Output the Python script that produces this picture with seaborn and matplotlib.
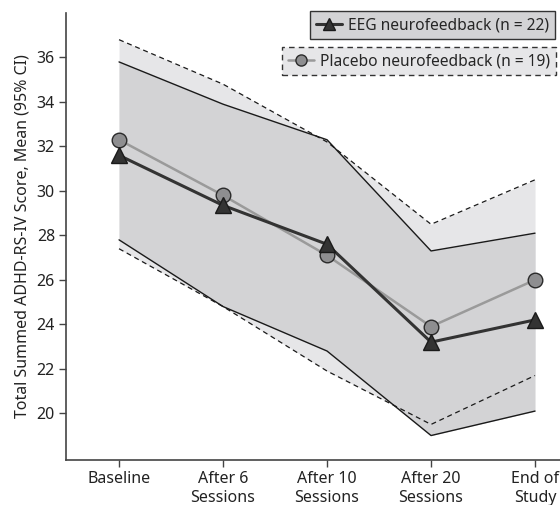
import matplotlib
matplotlib.use("Agg")
import matplotlib.pyplot as plt
import seaborn as sns
import pandas as pd
from matplotlib.lines import Line2D

sns.set_theme(style="ticks")
plt.rcParams['font.family'] = ['Noto Sans', 'DejaVu Sans']

categories = ["Baseline", "After 6\nSessions", "After 10\nSessions", "After 20\nSessions", "End of\nStudy"]
eeg_mean = [31.6, 29.35, 27.6, 23.2, 24.2]
eeg_upper = [35.8, 33.9, 32.3, 27.3, 28.1]
eeg_lower = [27.8, 24.8, 22.8, 19.0, 20.1]
pla_mean = [32.3, 29.8, 27.1, 23.9, 26.0]
pla_upper = [36.8, 34.8, 32.2, 28.5, 30.5]
pla_lower = [27.4, 24.8, 21.9, 19.5, 21.7]
yticks = [20, 22, 24, 26, 28, 30, 32, 34, 36]

pos = list(range(len(categories)))
df = pd.DataFrame({"pos": pos, "eeg": eeg_mean, "pla": pla_mean})

fig = plt.figure(figsize=(5.6, 5.05), dpi=100)
ax = fig.add_axes([66/560, 1-460/505, 1-66/560, (460-13)/505])

ax.fill_between(pos, pla_lower, pla_upper, color="#e6e6e8", lw=0, zorder=1)
ax.fill_between(pos, eeg_lower, eeg_upper, color="#d3d3d5", lw=0, zorder=2)
ax.plot(pos, pla_upper, color="#1a1a1a", lw=0.9, ls=(0, (4, 3)), zorder=3)
ax.plot(pos, pla_lower, color="#1a1a1a", lw=0.9, ls=(0, (4, 3)), zorder=3)
ax.plot(pos, eeg_upper, color="#1a1a1a", lw=1.0, zorder=3)
ax.plot(pos, eeg_lower, color="#1a1a1a", lw=1.0, zorder=3)

sns.lineplot(data=df, x="pos", y="pla", ax=ax, color="#9a9a9a", lw=1.8,
             marker="o", markersize=10.5, markerfacecolor="#8e8e90",
             markeredgecolor="#2a2a2a", markeredgewidth=1.0, zorder=4)
sns.lineplot(data=df, x="pos", y="eeg", ax=ax, color="#333333", lw=2.2,
             marker="^", markersize=11, markerfacecolor="#333333",
             markeredgecolor="#1a1a1a", markeredgewidth=1.0, zorder=5)

ax.set_xlim(-0.51, 4.24)
ax.set_ylim(17.9, 38)
ax.set_xticks(pos)
ax.set_xticklabels(categories, fontsize=11.5)
ax.set_yticks(yticks)
ax.set_yticklabels([str(t) for t in yticks], fontsize=11.5)
ax.set_xlabel("")
ax.set_ylabel("Total Summed ADHD-RS-IV Score, Mean (95% CI)", fontsize=11.5, color="#222222")
ax.tick_params(axis="both", direction="out", length=5, width=1, color="#444444", labelcolor="#222222", pad=3)
for s in ["left", "bottom"]:
    ax.spines[s].set_linewidth(1.2)
    ax.spines[s].set_color("#444444")
sns.despine(ax=ax)

h1 = Line2D([], [], color="#333333", lw=2.2, marker="^", markersize=8.5,
            markerfacecolor="#333333", markeredgecolor="#1a1a1a")
h2 = Line2D([], [], color="#9a9a9a", lw=1.8, marker="o", markersize=8,
            markerfacecolor="#8e8e90", markeredgecolor="#2a2a2a")
leg1 = ax.legend(handles=[h1], labels=["EEG neurofeedback (n = 22)"], loc="upper right",
                 bbox_to_anchor=(555/560, 1-11/505), bbox_transform=fig.transFigure,
                 fontsize=11.2, frameon=True, fancybox=False, framealpha=1,
                 handlelength=1.7, handletextpad=0.35, borderpad=0.4, borderaxespad=0)
leg1.get_frame().set_facecolor("#d3d3d5")
leg1.get_frame().set_edgecolor("#333333")
leg1.get_frame().set_linewidth(1.0)
ax.add_artist(leg1)
leg2 = ax.legend(handles=[h2], labels=["Placebo neurofeedback (n = 19)"], loc="upper right",
                 bbox_to_anchor=(556/560, 1-47/505), bbox_transform=fig.transFigure,
                 fontsize=11.2, frameon=True, fancybox=False, framealpha=1,
                 handlelength=1.7, handletextpad=0.35, borderpad=0.4, borderaxespad=0)
leg2.get_frame().set_facecolor("#e6e6e8")
leg2.get_frame().set_edgecolor("#333333")
leg2.get_frame().set_linewidth(1.0)
leg2.get_frame().set_linestyle((0, (4, 3)))

fig.savefig("out.png", dpi=100)
